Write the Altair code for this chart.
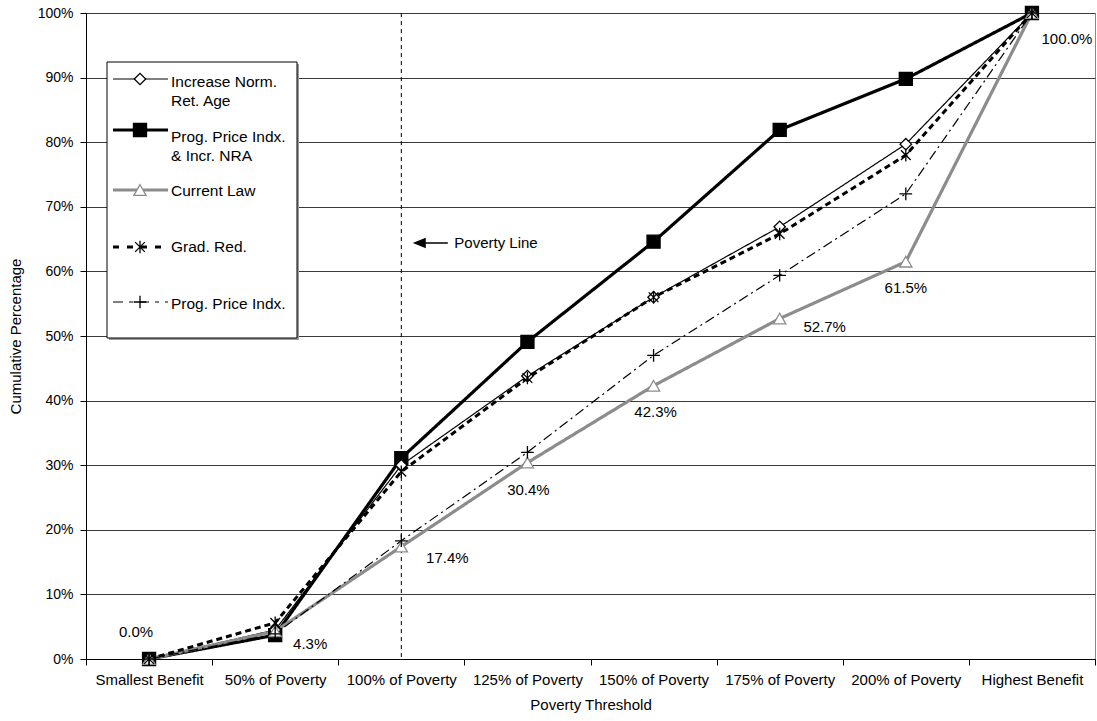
import altair as alt
import pandas as pd

# Poverty thresholds along the x axis
categories = [
    "Smallest Benefit", "50% of Poverty", "100% of Poverty", "125% of Poverty",
    "150% of Poverty", "175% of Poverty", "200% of Poverty", "Highest Benefit",
]

# Cumulative percentage of beneficiaries (in %) for each policy option
increase_nra = [0.0, 4.5, 30.0, 43.8, 56.0, 66.9, 79.7, 100.0]
prog_price_nra = [0.0, 3.7, 31.1, 49.1, 64.6, 81.9, 89.8, 100.0]
current_law = [0.0, 4.3, 17.4, 30.4, 42.3, 52.7, 61.5, 100.0]
grad_red = [0.0, 5.6, 29.0, 43.5, 56.0, 65.8, 78.0, 100.0]
prog_price = [0.0, 3.9, 18.3, 32.0, 47.0, 59.4, 72.0, 100.0]

series_names = [
    "Increase Norm. Ret. Age",
    "Prog. Price Indx. & Incr. NRA",
    "Current Law",
    "Grad. Red.",
    "Prog. Price Indx.",
]
series_values = [increase_nra, prog_price_nra, current_law, grad_red, prog_price]
legend_labels = [
    "Increase Norm.\nRet. Age",
    "Prog. Price Indx.\n& Incr. NRA",
    "Current Law",
    "Grad. Red.",
    "Prog. Price Indx.",
]

poverty_line_y = 64.4  # height of the "Poverty Line" note, in %

FONT = "Liberation Sans"
ASTERISK = "M-0.85,-0.85L0.85,0.85M-0.85,0.85L0.85,-0.85M0,-1.1L0,1.1"
PLUS = "M-1,0L1,0M0,-1L0,1"
ARROW = "M-1,0L-0.38,-0.25L-0.38,0.25Z M-0.38,0L1,0"

styles = {
    "Increase Norm. Ret. Age": dict(color="black", width=1.2, dash=[1, 0],
                                    shape="diamond", fill="white", stroke="black", size=130, filled=True),
    "Prog. Price Indx. & Incr. NRA": dict(color="black", width=3.2, dash=[1, 0],
                                          shape="square", fill="black", stroke="black", size=170, filled=True),
    "Current Law": dict(color="#8c8c8c", width=3.2, dash=[1, 0],
                        shape="triangle-up", fill="white", stroke="#8c8c8c", size=150, filled=True),
    "Grad. Red.": dict(color="black", width=3, dash=[6, 4],
                       shape=ASTERISK, fill="none", stroke="black", size=130, filled=False),
    "Prog. Price Indx.": dict(color="black", width=1.2, dash=[10, 4, 2, 4],
                              shape=PLUS, fill="none", stroke="black", size=160, filled=False),
}
draw_order = [
    "Prog. Price Indx. & Incr. NRA", "Increase Norm. Ret. Age", "Current Law",
    "Grad. Red.", "Prog. Price Indx.",
]

rows = []
for name, vals in zip(series_names, series_values):
    for cat, v in zip(categories, vals):
        rows.append({"series": name, "category": cat, "value": v})
df = pd.DataFrame(rows)

W, H = 1009, 646

x_enc = alt.X(
    "category:N", sort=categories, title="Poverty Threshold",
    scale=alt.Scale(domain=categories, paddingInner=0, paddingOuter=0),
    axis=alt.Axis(labelAngle=0, tickBand="extent", tickSize=6, tickColor="black",
                  domainColor="black", labelPadding=7, titlePadding=10,
                  labelFontSize=15, titleFontSize=15, labelColor="black",
                  titleColor="black", titleFontWeight="normal", grid=False),
)
y_enc = alt.Y(
    "value:Q", title="Cumulative Percentage",
    scale=alt.Scale(domain=[0, 100], nice=False),
    axis=alt.Axis(values=list(range(0, 101, 10)), labelExpr="datum.value + '%'",
                  tickSize=6, tickColor="black", domainColor="black",
                  labelPadding=7, titlePadding=14, labelFontSize=14,
                  titleFontSize=15, labelColor="black", titleColor="black",
                  titleFontWeight="normal", grid=True, gridColor="#3a3a3a",
                  gridWidth=1),
)

base = alt.Chart(df)
layers = []

# Vertical dashed marker at the poverty line
pov = alt.Chart(pd.DataFrame({"category": ["100% of Poverty"], "value": [poverty_line_y]}))
layers.append(pov.mark_rule(color="black", strokeWidth=1, strokeDash=[4, 4]).encode(x=x_enc))

# Series lines, then their markers
for name in draw_order:
    s = styles[name]
    layers.append(
        base.transform_filter(alt.datum.series == name)
        .mark_line(color=s["color"], strokeWidth=s["width"], strokeDash=s["dash"])
        .encode(x=x_enc, y=y_enc)
    )
for name in draw_order:
    s = styles[name]
    layers.append(
        base.transform_filter(alt.datum.series == name)
        .mark_point(shape=s["shape"], size=s["size"], filled=s["filled"],
                    fill=s["fill"], stroke=s["stroke"], strokeWidth=1.3, opacity=1)
        .encode(x=x_enc, y=y_enc)
    )

# Value labels for the current-law series
label_offsets = [(-13, -27), (35, 13), (46, 11), (1, 27), (2, 26), (45, 8), (0, 26), (35, 26)]
for cat, (dx, dy) in zip(categories, label_offsets):
    layers.append(
        base.transform_filter((alt.datum.series == "Current Law") & (alt.datum.category == cat))
        .transform_calculate(label="format(datum.value, '.1f') + '%'")
        .mark_text(dx=dx, dy=dy, font=FONT, fontSize=15, color="black", baseline="middle")
        .encode(x=x_enc, y=y_enc, text="label:N")
    )

# "Poverty Line" note with arrow
layers.append(
    pov.mark_point(shape=ARROW, size=33 * 33, filled=True, fill="black", stroke="black",
                   strokeWidth=1.5, xOffset=30, opacity=1)
    .encode(x=x_enc, y=y_enc)
)
layers.append(
    pov.mark_text(text="Poverty Line", align="left", baseline="middle", dx=53,
                  font=FONT, fontSize=15, color="black")
    .encode(x=x_enc, y=y_enc)
)

# Legend box
legend_box = dict(x=21, y=49, x2=211, y2=325)
layers.append(
    alt.Chart(pd.DataFrame({"k": [0]})).mark_rect(fill="#9a9a9a")
    .encode(x=alt.value(legend_box["x"] + 2), x2=alt.value(legend_box["x2"] + 2),
            y=alt.value(legend_box["y"] + 2), y2=alt.value(legend_box["y2"] + 2))
)
layers.append(
    alt.Chart(pd.DataFrame({"k": [0]})).mark_rect(fill="white", stroke="black", strokeWidth=1)
    .encode(x=alt.value(legend_box["x"]), x2=alt.value(legend_box["x2"]),
            y=alt.value(legend_box["y"]), y2=alt.value(legend_box["y2"]))
)

symbol_y = [66, 117, 177, 234, 289]
text_y = [73.5, 128.5, 183, 239, 295.5]
legend_dash = {
    "Grad. Red.": [6, 8],
    "Prog. Price Indx.": [10, 6, 4, 6],
}
one = pd.DataFrame({"k": [0]})
for name, label, sy, ty in zip(series_names, legend_labels, symbol_y, text_y):
    s = styles[name]
    layers.append(
        alt.Chart(one).mark_rule(color=s["color"], strokeWidth=s["width"],
                                 strokeDash=legend_dash.get(name, s["dash"]))
        .encode(x=alt.value(27), x2=alt.value(82), y=alt.value(sy))
    )
    layers.append(
        alt.Chart(one).mark_point(shape=s["shape"], size=s["size"], filled=s["filled"],
                                  fill=s["fill"], stroke=s["stroke"], strokeWidth=1.3, opacity=1)
        .encode(x=alt.value(54), y=alt.value(sy))
    )
    layers.append(
        alt.Chart(one).mark_text(text=label, lineBreak="\n", lineHeight=19, align="left",
                                 baseline="alphabetic", font=FONT, fontSize=15.5, color="black")
        .encode(x=alt.value(85), y=alt.value(ty))
    )

chart = (
    alt.layer(*layers)
    .properties(width=W, height=H, background="white",
                autosize=alt.AutoSizeParams(type="none"),
                padding={"left": 86, "top": 13, "right": 2, "bottom": 62})
    .configure_view(stroke="#8a8a8a", strokeWidth=1)
    .configure_axis(labelFont=FONT, titleFont=FONT)
)

chart.save("out.html", embed_options={"renderer": "svg", "actions": False})
